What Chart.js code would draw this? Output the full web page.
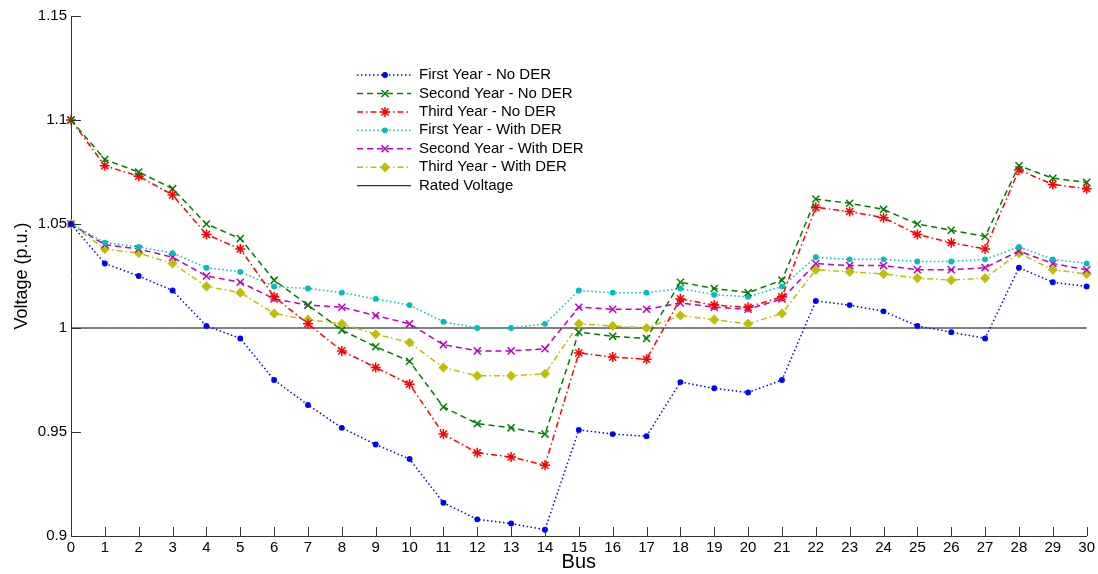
<!DOCTYPE html>
<html>
<head>
<meta charset="utf-8">
<script src="https://cdn.jsdelivr.net/npm/chart.js@4/dist/chart.umd.min.js"></script>
<style>
  html, body { margin: 0; padding: 0; background: #fff; }
  #wrap { width: 1098px; height: 574px; position: relative; }
</style>
</head>
<body>
<div id="wrap"><canvas id="chart"></canvas></div>
<script>
// bus numbers on the x axis
const buses = [0,1,2,3,4,5,6,7,8,9,10,11,12,13,14,15,16,17,18,19,20,21,22,23,24,25,26,27,28,29,30];

// voltages (p.u.)
const firstYearNoDER = [1.050,1.031,1.025,1.018,1.001,0.995,0.975,0.963,0.952,0.944,0.937,0.916,0.908,0.906,0.903,
  0.951,0.949,0.948,0.974,0.971,0.969,0.975,1.013,1.011,1.008,1.001,0.998,0.995,1.029,1.022,1.020];
const secondYearNoDER = [1.100,1.081,1.075,1.067,1.050,1.043,1.023,1.011,0.999,0.991,0.984,0.962,0.954,0.952,0.949,
  0.998,0.996,0.995,1.022,1.019,1.017,1.023,1.062,1.060,1.057,1.050,1.047,1.044,1.078,1.072,1.070];
const thirdYearNoDER = [1.100,1.078,1.073,1.064,1.045,1.038,1.015,1.002,0.989,0.981,0.973,0.949,0.940,0.938,0.934,
  0.988,0.986,0.985,1.014,1.011,1.010,1.015,1.058,1.056,1.053,1.045,1.041,1.038,1.076,1.069,1.067];
const firstYearWithDER = [1.050,1.041,1.039,1.036,1.029,1.027,1.020,1.019,1.017,1.014,1.011,1.003,1.000,1.000,1.002,
  1.018,1.017,1.017,1.019,1.016,1.015,1.020,1.034,1.033,1.033,1.032,1.032,1.033,1.039,1.033,1.031];
const secondYearWithDER = [1.050,1.040,1.038,1.034,1.025,1.022,1.014,1.011,1.010,1.006,1.002,0.992,0.989,0.989,0.990,
  1.010,1.009,1.009,1.012,1.010,1.009,1.014,1.031,1.030,1.030,1.028,1.028,1.029,1.037,1.031,1.028];
const thirdYearWithDER = [1.050,1.038,1.036,1.031,1.020,1.017,1.007,1.004,1.002,0.997,0.993,0.981,0.977,0.977,0.978,
  1.002,1.001,1.000,1.006,1.004,1.002,1.007,1.028,1.027,1.026,1.024,1.023,1.024,1.036,1.028,1.026];
const ratedVoltage = 1.0;

const yTicks = [0.9, 0.95, 1.0, 1.05, 1.1, 1.15];

const FONT = '"Liberation Sans", Arial, sans-serif';
const DOT = [1.5, 2.5];
const DASH = [6, 4];
const DASHDOT = [6, 3, 1.5, 3];

function series(label, data, color, dash, style, radius, fill) {
  return {
    label: label,
    data: data,
    borderColor: color,
    backgroundColor: fill ? color : 'transparent',
    borderWidth: 1.5,
    borderDash: dash,
    pointStyle: style,
    pointRadius: radius,
    pointBorderWidth: 1.5,
    pointBorderColor: color,
    pointBackgroundColor: fill ? color : 'transparent',
    tension: 0,
    fill: false
  };
}

const datasets = [
  series('First Year - No DER', firstYearNoDER, '#0000ff', DOT, 'circle', 2.2, true),
  series('Second Year - No DER', secondYearNoDER, '#008000', DASH, 'crossRot', 5, false),
  series('Third Year - No DER', thirdYearNoDER, '#ff0000', DASHDOT, 'star', 5, false),
  series('First Year - With DER', firstYearWithDER, '#00bfbf', DOT, 'circle', 2.2, true),
  series('Second Year - With DER', secondYearWithDER, '#bf00bf', DASH, 'crossRot', 5, false),
  series('Third Year - With DER', thirdYearWithDER, '#bfbf00', DASHDOT, 'rectRot', 4, true),
  {
    label: 'Rated Voltage',
    data: buses.map(() => ratedVoltage),
    borderColor: '#000000',
    borderWidth: 1,
    borderDash: [],
    pointRadius: 0,
    tension: 0,
    fill: false
  }
];

// inward tick marks, matlab style
const innerTicks = {
  id: 'innerTicks',
  afterDraw(chart) {
    const ctx = chart.ctx;
    const xs = chart.scales.x, ys = chart.scales.y;
    const a = chart.chartArea;
    ctx.save();
    ctx.strokeStyle = '#333';
    ctx.lineWidth = 1;
    ctx.beginPath();
    buses.forEach((b, i) => {
      const px = Math.round(xs.getPixelForValue(i)) + 0.5;
      ctx.moveTo(px, a.bottom);
      ctx.lineTo(px, a.bottom - 9);
    });
    yTicks.forEach(v => {
      const py = Math.round(ys.getPixelForValue(v)) + 0.5;
      ctx.moveTo(a.left, py);
      ctx.lineTo(a.left + 10, py);
    });
    ctx.stroke();
    ctx.restore();
  }
};

// legend drawn inside the plot, no box
const innerLegend = {
  id: 'innerLegend',
  afterDraw(chart) {
    const ctx = chart.ctx;
    const x0 = 357, x1 = 411, tx = 419;
    let y = 75;
    ctx.save();
    chart.data.datasets.forEach(ds => {
      ctx.strokeStyle = ds.borderColor;
      ctx.lineWidth = ds.borderWidth;
      ctx.setLineDash(ds.borderDash || []);
      ctx.beginPath();
      ctx.moveTo(x0, y);
      ctx.lineTo(x1, y);
      ctx.stroke();
      ctx.setLineDash([]);
      if (ds.pointRadius > 0) {
        ctx.fillStyle = ds.pointBackgroundColor;
        ctx.strokeStyle = ds.pointBorderColor;
        ctx.lineWidth = ds.pointBorderWidth;
        Chart.helpers.drawPoint(ctx, {
          pointStyle: ds.pointStyle,
          radius: ds.pointRadius,
          rotation: 0,
          borderWidth: ds.pointBorderWidth
        }, (x0 + x1) / 2 + 1, y);
      }
      ctx.fillStyle = '#000';
      ctx.font = '15px ' + FONT;
      ctx.textBaseline = 'middle';
      ctx.textAlign = 'left';
      ctx.fillText(ds.label, tx, y);
      y += 18.45;
    });
    ctx.restore();
  }
};

new Chart(document.getElementById('chart'), {
  type: 'line',
  data: { labels: buses, datasets: datasets },
  options: {
    responsive: true,
    maintainAspectRatio: false,
    animation: false,
    layout: { padding: { top: 16, right: 9, left: 0, bottom: 0 } },
    plugins: { legend: { display: false }, tooltip: { enabled: false } },
    scales: {
      x: {
        type: 'category',
        offset: false,
        grid: { display: false, drawTicks: false },
        border: { display: true, color: '#333', width: 1 },
        ticks: { autoSkip: false, maxRotation: 0, color: '#000', padding: 3, font: { family: FONT, size: 15 } },
        title: { display: true, text: 'Bus', color: '#000', padding: { top: 0, bottom: 0 }, font: { family: FONT, size: 20 } },
        afterFit(s) { s.height = 38; }
      },
      y: {
        min: 0.9,
        max: 1.15,
        grid: { display: false, drawTicks: false },
        border: { display: true, color: '#333', width: 1 },
        afterBuildTicks(s) { s.ticks = yTicks.map(v => ({ value: v })); },
        ticks: {
          color: '#000',
          padding: 4,
          font: { family: FONT, size: 15 },
          callback: v => String(+Number(v).toFixed(2))
        },
        title: { display: true, text: 'Voltage (p.u.)', color: '#000', padding: { top: 11, bottom: 0 }, font: { family: FONT, size: 18 } },
        afterFit(s) { s.width = 71; }
      }
    }
  },
  plugins: [innerTicks, innerLegend]
});
</script>
</body>
</html>
